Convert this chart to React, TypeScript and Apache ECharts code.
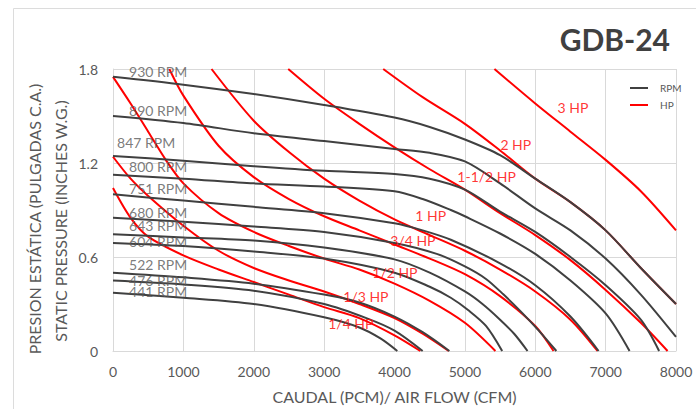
import React, { useEffect, useRef } from 'react';
import * as echarts from 'echarts';

// ---- data (x = air flow CFM, y = static pressure in. W.G.) ----
const xTicks = [0, 1000, 2000, 3000, 4000, 5000, 6000, 7000, 8000];
const yTicks = [0, 0.6, 1.2, 1.8];

const rpmNames = ['930 RPM', '890 RPM', '847 RPM', '800 RPM', '751 RPM', '680 RPM', '643 RPM', '604 RPM', '522 RPM', '476 RPM', '441 RPM'];
const rpm930 = [[0, 1.75], [1000, 1.70], [2000, 1.64], [3000, 1.57], [4000, 1.49], [4500, 1.43], [5000, 1.35], [5500, 1.25], [6000, 1.10], [6500, 0.95], [7000, 0.77], [7500, 0.53], [8000, 0.30]];
const rpm890 = [[0, 1.50], [1000, 1.455], [2000, 1.39], [3000, 1.34], [4000, 1.29], [4500, 1.265], [5000, 1.21], [5500, 1.07], [6000, 0.91], [6500, 0.77], [7000, 0.59], [7500, 0.36], [8000, 0.09]];
const rpm847 = [[0, 1.245], [1000, 1.215], [2000, 1.18], [3000, 1.15], [4000, 1.13], [4500, 1.10], [5000, 1.03], [5500, 0.89], [6000, 0.76], [6500, 0.60], [7000, 0.42], [7500, 0.20], [7760, 0]];
const rpm800 = [[0, 1.125], [1000, 1.10], [2000, 1.07], [3000, 1.05], [4000, 1.02], [4400, 0.97], [4800, 0.90], [5000, 0.86], [5500, 0.75], [6000, 0.62], [6500, 0.45], [7000, 0.24], [7340, 0]];
const rpm751 = [[0, 1.0], [1000, 0.96], [2000, 0.92], [3000, 0.88], [4000, 0.815], [4400, 0.77], [4800, 0.71], [5500, 0.56], [6000, 0.42], [6500, 0.22], [6900, 0]];
const rpm680 = [[0, 0.85], [1000, 0.825], [2000, 0.795], [3000, 0.76], [4000, 0.69], [4600, 0.62], [5000, 0.54], [5300, 0.46], [5550, 0.36], [5800, 0.25], [6050, 0.13], [6300, 0]];
const rpm643 = [[0, 0.745], [1000, 0.725], [2000, 0.705], [3000, 0.66], [4000, 0.585], [4500, 0.50], [5000, 0.38], [5250, 0.30], [5500, 0.20], [5700, 0.11], [5890, 0]];
const rpm604 = [[0, 0.69], [1000, 0.67], [2000, 0.635], [3000, 0.59], [4000, 0.50], [4500, 0.41], [4800, 0.34], [5050, 0.26], [5300, 0.16], [5530, 0]];
const rpm522 = [[0, 0.50], [1000, 0.47], [2000, 0.43], [3000, 0.36], [3500, 0.31], [4000, 0.22], [4400, 0.12], [4780, 0]];
const rpm476 = [[0, 0.45], [1000, 0.425], [2000, 0.385], [3000, 0.30], [3600, 0.21], [4000, 0.13], [4400, 0]];
const rpm441 = [[0, 0.372], [1000, 0.34], [2000, 0.30], [3000, 0.215], [3500, 0.15], [3800, 0.08], [4040, 0]];
const rpmCurves = [rpm930, rpm890, rpm847, rpm800, rpm751, rpm680, rpm643, rpm604, rpm522, rpm476, rpm441];
// label anchors (data coordinates: left edge / middle of each label)
const rpmLabelAt = [[228, 1.782], [228, 1.538], [57, 1.329], [228, 1.176], [228, 1.038], [228, 0.883], [228, 0.804], [228, 0.698], [228, 0.549], [228, 0.453], [228, 0.378]];

const hpNames = ['1/4 HP', '1/3 HP', '1/2 HP', '3/4 HP', '1 HP', '1-1/2 HP', '2 HP', '3 HP'];
const hpQuarter = [[0, 1.04], [250, 0.85], [500, 0.73], [1000, 0.61], [1500, 0.52], [2000, 0.44], [2500, 0.36], [3000, 0.28], [3500, 0.21], [4000, 0.10], [4367, 0]];
const hpThird = [[0, 1.24], [250, 1.10], [500, 0.99], [1000, 0.80], [1500, 0.64], [2000, 0.53], [2500, 0.45], [3000, 0.38], [3500, 0.30], [4000, 0.21], [4400, 0.11], [4770, 0]];
const hpHalf = [[0, 1.75], [250, 1.58], [500, 1.40], [750, 1.22], [1000, 1.07], [1500, 0.88], [2000, 0.76], [2500, 0.67], [3000, 0.59], [3500, 0.52], [4000, 0.43], [4500, 0.32], [5000, 0.18], [5434, 0]];
const hpThreeQuarter = [[800, 1.80], [1000, 1.63], [1500, 1.31], [2000, 1.11], [2500, 0.97], [3000, 0.86], [3500, 0.77], [4000, 0.68], [4500, 0.59], [5000, 0.49], [5500, 0.35], [6000, 0.16], [6260, 0]];
const hpOne = [[1400, 1.80], [2000, 1.47], [2500, 1.27], [3000, 1.10], [3500, 0.96], [4000, 0.84], [4500, 0.74], [5000, 0.64], [5500, 0.52], [6000, 0.38], [6500, 0.20], [6885, 0]];
const hpOneHalf = [[2490, 1.80], [3000, 1.61], [3500, 1.45], [4000, 1.30], [4500, 1.16], [5000, 1.03], [5500, 0.88], [6000, 0.74], [6500, 0.58], [7000, 0.39], [7500, 0.18], [7880, 0]];
const hpTwo = [[3840, 1.80], [4400, 1.62], [5000, 1.45], [5500, 1.28], [6000, 1.10], [6500, 0.95], [7000, 0.77], [7500, 0.53], [8000, 0.30]];
const hpThree = [[5420, 1.80], [6000, 1.58], [6500, 1.40], [7000, 1.22], [7500, 1.02], [8000, 0.77]];
const hpCurves = [hpQuarter, hpThird, hpHalf, hpThreeQuarter, hpOne, hpOneHalf, hpTwo, hpThree];
const hpLabelAt = [[3058, 0.177], [3272, 0.345], [3684, 0.50], [3940, 0.708], [4296, 0.862], [4893, 1.112], [5505, 1.319], [6316, 1.557]];

const FONT = 'Lato, "Open Sans", sans-serif';
const GRAY = '#595959';
const DARK = '#404040';
const RED = '#ff0000';

export default function App() {
  const ref = useRef<HTMLDivElement>(null);
  useEffect(() => {
    if (!ref.current) return;
    const chart = echarts.init(ref.current, undefined, { renderer: 'svg' });
    const rpmSeries = rpmCurves.map((d) => ({
      type: 'line', name: 'RPM', data: d, symbol: 'none', showSymbol: false,
      smooth: 0.3,
      lineStyle: { color: DARK, width: 2 }, itemStyle: { color: DARK }, z: 3, silent: true,
    }));
    const hpSeries = hpCurves.map((d) => ({
      type: 'line', name: 'HP', data: d, symbol: 'none', showSymbol: false,
      smooth: 0.3,
      lineStyle: { color: RED, width: 2 }, itemStyle: { color: RED }, z: 2, silent: true,
    }));
    const rpmLabels = {
      type: 'scatter', name: 'rpmLabels', symbolSize: 0, silent: true, z: 5,
      data: rpmLabelAt.map((p, i) => ({ value: p, label: { formatter: rpmNames[i] } })),
      label: { show: true, position: 'right', distance: 0, color: GRAY, fontSize: 14, fontFamily: FONT },
    };
    const hpLabels = {
      type: 'scatter', name: 'hpLabels', symbolSize: 0, silent: true, z: 5,
      data: hpLabelAt.map((p, i) => ({ value: p, label: { formatter: hpNames[i] } })),
      label: { show: true, position: 'right', distance: 0, color: RED, fontSize: 14, fontFamily: FONT },
    };
    chart.setOption({
      animation: false,
      title: {
        text: 'GDB-24', right: 21, top: 19,
        textStyle: { fontFamily: FONT, fontWeight: 'bold', fontSize: 30, color: DARK },
      },
      legend: {
        data: [{ name: 'RPM', icon: 'rect' }, { name: 'HP', icon: 'rect' }],
        orient: 'vertical', left: 625, top: 77,
        itemWidth: 18, itemHeight: 2, itemGap: 5,
        textStyle: { color: GRAY, fontSize: 10, fontFamily: FONT, lineHeight: 12, padding: [0, 0, 0, 7] },
      },
      grid: { left: 113, right: 20, top: 69, bottom: 58 },
      xAxis: {
        type: 'value', min: xTicks[0], max: xTicks[xTicks.length - 1], interval: xTicks[1] - xTicks[0],
        name: 'CAUDAL (PCM)/ AIR FLOW (CFM)', nameLocation: 'middle', nameGap: 37,
        nameTextStyle: { color: GRAY, fontSize: 16, fontFamily: FONT },
        axisLine: { show: true, lineStyle: { color: '#d9d9d9', width: 1 } },
        axisTick: { show: false },
        axisLabel: { color: GRAY, fontSize: 14, fontFamily: FONT, margin: 13, formatter: (v: number) => String(v) },
        splitLine: { show: true, lineStyle: { color: '#d9d9d9', width: 1 } },
      },
      yAxis: {
        type: 'value', min: yTicks[0], max: yTicks[yTicks.length - 1], interval: yTicks[1] - yTicks[0],
        axisLine: { show: true, lineStyle: { color: '#d9d9d9', width: 1 } },
        axisTick: { show: false },
        axisLabel: { color: GRAY, fontSize: 14, fontFamily: FONT, margin: 15, formatter: (v: number) => String(Math.round(v * 10) / 10) },
        splitLine: { show: true, lineStyle: { color: '#d9d9d9', width: 1 } },
      },
      graphic: [
        {
          type: 'rect', silent: true, z: -10,
          shape: { x: 13.5, y: 8.5, width: 720, height: 440 },
          style: { fill: 'none', stroke: '#dcdcdc', lineWidth: 1 },
        },
        {
          type: 'text', x: 34, y: 219, rotation: Math.PI / 2, silent: true,
          style: { text: 'PRESION ESTÁTICA (PULGADAS C.A.)', fill: GRAY, fontSize: 16, fontFamily: FONT, align: 'center', verticalAlign: 'middle' },
        },
        {
          type: 'text', x: 60, y: 221, rotation: Math.PI / 2, silent: true,
          style: { text: 'STATIC PRESSURE (INCHES W.G.)', fill: GRAY, fontSize: 16, fontFamily: FONT, align: 'center', verticalAlign: 'middle' },
        },
      ],
      series: [...hpSeries, ...rpmSeries, rpmLabels, hpLabels],
    });
    return () => chart.dispose();
  }, []);
  return <div ref={ref} style={{ position: 'fixed', left: 0, top: 0, width: 696, height: 409, background: '#fff' }} />;
}
